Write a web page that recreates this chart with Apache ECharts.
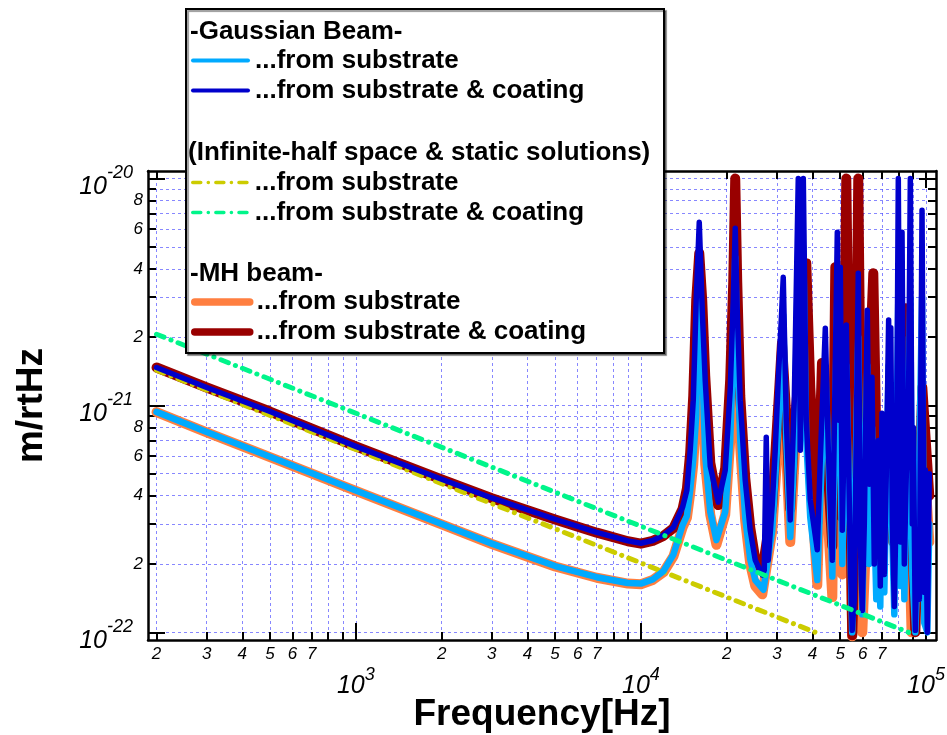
<!DOCTYPE html>
<html>
<head>
<meta charset="utf-8">
<script src="https://cdn.jsdelivr.net/npm/echarts@6/dist/echarts.min.js"></script>
</head>
<body style="margin:0">
<div id="main" style="width:947px;height:735px"></div>
<script>
// axis ranges
var X_MIN = 186.7, X_MAX = 108400;
var Y_MIN = 9.25e-23, Y_MAX = 1.08e-20;

// tick positions / labels
var X_TICKS = [200, 300, 400, 500, 600, 700, 800, 900, 1000,
  2000, 3000, 4000, 5000, 6000, 7000, 8000, 9000, 10000,
  20000, 30000, 40000, 50000, 60000, 70000, 80000, 90000, 100000];
var X_LABELED = [200, 300, 400, 500, 600, 700, 2000, 3000, 4000, 5000, 6000, 7000,
  20000, 30000, 40000, 50000, 60000, 70000];
var X_DECADES = [1000, 10000, 100000];
var Y_TICKS = [1e-22, 2e-22, 3e-22, 4e-22, 5e-22, 6e-22, 7e-22, 8e-22, 9e-22,
  1e-21, 2e-21, 3e-21, 4e-21, 5e-21, 6e-21, 7e-21, 8e-21, 9e-21, 1e-20];
var Y_LABELED = [2e-22, 4e-22, 6e-22, 8e-22, 2e-21, 4e-21, 6e-21, 8e-21];
var Y_DECADES = [1e-22, 1e-21, 1e-20];

// low frequency part, shared frequency grid
var FREQ_LOW = [200, 300, 500, 1000, 2000, 3000, 5000, 7000, 9000, 10000, 11000, 12000, 13000, 14000];
var GAUSS_COAT_LOW = [1.47e-21, 1.20e-21, 9.4e-22, 6.6e-22, 4.73e-22, 3.91e-22, 3.15e-22, 2.76e-22, 2.53e-22, 2.47e-22, 2.54e-22, 2.68e-22, 2.9e-22, 3.56e-22];
var MH_COAT_LOW = [1.47e-21, 1.20e-21, 9.4e-22, 6.6e-22, 4.72e-22, 3.9e-22, 3.14e-22, 2.75e-22, 2.52e-22, 2.46e-22, 2.53e-22, 2.66e-22, 2.88e-22, 3.5e-22];
var GAUSS_SUB_LOW = [9.37e-22, 7.63e-22, 5.94e-22, 4.22e-22, 3.0e-22, 2.46e-22, 1.96e-22, 1.75e-22, 1.65e-22, 1.64e-22, 1.71e-22, 1.86e-22, 2.2e-22, 2.97e-22];
var MH_SUB_LOW = [9.35e-22, 7.6e-22, 5.92e-22, 4.2e-22, 2.99e-22, 2.45e-22, 1.95e-22, 1.74e-22, 1.64e-22, 1.63e-22, 1.7e-22, 1.84e-22, 2.16e-22, 2.9e-22];

// resonance region, Gaussian beam, substrate & coating
var GAUSS_COAT_F = [14500, 14890, 15260, 15630, 16020, 16410, 16810, 17510, 18670, 19760,
  20570, 21080, 21420, 21770, 22310, 23220, 24180, 25180, 26650, 27080,
  27520, 27970, 28880, 29590, 30320, 31070, 31570, 32350, 33410, 34510,
  35640, 36230, 37120, 38020, 39270, 41560, 42570, 44340, 45430, 46920,
  48850, 49450, 50050, 50860, 52530, 54250, 55100, 56030,
  57860, 58830, 59770, 60750, 62230, 63260, 64640, 65860, 66930, 67470,
  68010, 69120, 70060, 71400, 72560, 73940, 74650, 75250, 76180, 77420,
  78680, 79950, 81260, 82390, 83940, 85290, 86690, 88100, 89530, 90250,
  91730, 93220, 94750, 96830, 98630, 99440, 101060, 102700];
var GAUSS_COAT_V = [4.24e-22, 6.35e-22, 1.05e-21, 2.91e-21, 6.42e-21, 2.63e-21, 1.29e-21, 5.4e-22, 3.75e-22, 5.19e-22,
  1.17e-21, 2.91e-21, 6.04e-21, 2.63e-21, 1.05e-21, 4.69e-22, 2.82e-22, 2.08e-22, 1.79e-22, 1.88e-22,
  7.24e-22, 2.08e-22, 3.64e-22, 6.35e-22, 1.29e-21, 2.38e-21, 3.67e-21, 8.6e-22, 3.13e-22, 1.05e-21,
  1.0e-20, 6.35e-22, 1.0e-20, 8.6e-22, 3.83e-22, 2.31e-22, 5.74e-22, 2.19e-21, 6.35e-22, 2.08e-22,
  5.8e-21, 8.6e-22, 4.07e-21, 2.82e-22, 2.26e-21, 2.08e-22, 1.02e-22, 1.39e-22,
  3.83e-21, 2.5e-22, 1.25e-22, 3.0e-22, 2.63e-21, 4.5e-22, 1.33e-21, 2.0e-22, 6.0e-22, 2.5e-22,
  7.0e-22, 1.6e-22, 9.25e-22, 1.8e-22, 5.0e-22, 2.38e-21, 6.0e-22, 2.2e-21, 3.0e-22, 1.3e-22,
  4.0e-22, 1.0e-20, 2.5e-22, 5.8e-21, 2.0e-22, 5.0e-22, 8.0e-22, 1.0e-20, 3.0e-22, 8.0e-22,
  1.02e-22, 2.5e-22, 1.4e-22, 7.25e-21, 1.5e-22, 5.19e-22, 1.0e-22, 5.0e-22];

// MH beam, substrate & coating
var MH_COAT_F = [14500, 14890, 15260, 15630, 16020, 16410, 16810, 17510, 18670, 19760,
  20570, 21080, 21420, 21770, 22310, 23220, 24180, 25180, 26650, 28880,
  30320, 31240, 32350, 33410, 34510, 36230, 38020, 39270, 41560, 43160,
  44340, 46920, 48070, 50050, 50860, 52530, 54250, 55100, 56030, 57860,
  59770, 62230, 65330, 67490, 70290, 71500, 76800, 80500, 84600, 88100,
  91730, 97060, 102700];
var MH_COAT_V = [4.3e-22, 6.2e-22, 1.1e-21, 2.9e-21, 4.69e-21, 2.9e-21, 1.35e-21, 5.6e-22, 3.64e-22, 5.3e-22,
  1.3e-21, 3.5e-21, 1.0e-20, 3.5e-21, 1.1e-21, 4.8e-22, 2.9e-22, 2.1e-22, 1.88e-22, 3.6e-22,
  1.0e-21, 1.88e-21, 9.0e-22, 3.5e-22, 8.0e-22, 1.6e-21, 4.24e-21, 1.2e-21, 3.03e-22, 1.54e-21,
  8.0e-22, 2.4e-22, 4.07e-21, 8.0e-22, 3.2e-22, 1.0e-20, 4.0e-22, 9.7e-23, 2.0e-22, 1.0e-20,
  2.0e-22, 8.0e-22, 3.83e-21, 4.0e-22, 2.0e-22, 8.7e-22, 2.5e-22, 6.0e-22, 2.68e-21, 5.0e-22,
  1.0e-22, 1.2e-21, 4.0e-22];

// Gaussian beam, substrate
var GAUSS_SUB_F = [14500, 14890, 15260, 15630, 16020, 16410, 16810, 17510, 18400, 19760,
  20570, 21080, 21420, 21770, 22310, 23220, 24180, 25180, 26900, 28880,
  30320, 31570, 32350, 33410, 34510, 35640, 36230, 37120, 38020, 39270,
  41560, 44340, 46920, 48850, 50860, 52530, 55100,
  57860, 59770, 62230, 63260, 64640, 66930, 68010, 69120, 70060, 71400,
  73940, 76180, 77420, 79950, 81260, 82390, 83940, 88100, 89530, 91730,
  93220, 96830, 98630, 101060, 102700];
var GAUSS_SUB_V = [3.26e-22, 4.24e-22, 5.74e-22, 9.0e-22, 4.0e-21, 1.5e-21, 6.0e-22, 3.4e-22, 2.55e-22, 3.4e-22,
  7.0e-22, 1.8e-21, 4.5e-21, 1.8e-21, 7.0e-22, 3.2e-22, 2.1e-22, 1.7e-22, 1.54e-22, 2.8e-22,
  8.0e-22, 2.5e-21, 7.0e-22, 2.63e-22, 6.0e-22, 5.0e-21, 8.3e-22, 5.0e-21, 7.0e-22, 3.2e-22,
  1.7e-22, 1.5e-21, 1.76e-22, 3.0e-21, 2.0e-22, 1.5e-21, 1.0e-22,
  2.0e-21, 1.2e-22, 1.5e-21, 2.0e-22, 8.0e-22, 1.4e-22, 3.0e-22, 1.3e-22, 6.0e-22, 1.5e-22,
  1.5e-21, 2.6e-22, 1.2e-22, 3.0e-21, 1.6e-22, 2.0e-21, 1.4e-22, 3.0e-21, 1.8e-22, 1.0e-22,
  1.8e-22, 3.0e-21, 1.1e-22, 1.0e-22, 3.0e-22];

// MH beam, substrate
var MH_SUB_F = [14500, 14890, 15260, 15630, 16020, 16410, 16810, 17510, 18400, 19760,
  20570, 21080, 21420, 21770, 22310, 23220, 24180, 25180, 26650, 28880,
  30320, 31240, 32350, 33410, 35640, 38020, 39270, 41560, 43160, 46920,
  48070, 50860, 52530, 55100, 57860, 59770, 65330, 67490, 71500, 76800,
  84600, 89000, 97060, 102700];
var MH_SUB_V = [3.2e-22, 4.1e-22, 5.5e-22, 9.0e-22, 3.0e-21, 1.4e-21, 5.5e-22, 3.3e-22, 2.43e-22, 3.3e-22,
  7.0e-22, 2.0e-21, 5.0e-21, 2.0e-21, 6.5e-22, 3.1e-22, 2.0e-22, 1.6e-22, 1.47e-22, 2.8e-22,
  7.0e-22, 1.5e-21, 6.0e-22, 2.5e-22, 1.2e-21, 2.0e-21, 5.0e-22, 1.62e-22, 9.0e-22, 1.43e-22,
  2.0e-21, 1.8e-22, 3.0e-21, 9.6e-23, 3.0e-21, 1.0e-22, 1.5e-21, 2.0e-22, 6.0e-22, 2.5e-22,
  1.2e-21, 1.0e-22, 8.0e-22, 2.5e-22];

// infinite half space & static solutions (straight in log-log)
var INF_SUB_F = [200, 40900];
var INF_SUB_V = [1.43e-21, 1.0e-22];
var INF_COAT_F = [200, 86900];
var INF_COAT_V = [2.06e-21, 1.0e-22];

var FONT = 'Liberation Sans, Arial, Helvetica, sans-serif';
var GRID_LINE = {color: 'rgba(70,70,255,0.65)', width: 1, type: [3, 3]};

var LABELS = {
  gSub: '...from substrate',
  gCoat: '...from substrate & coating',
  iSub: '...from substrate',
  iCoat: '...from substrate & coating',
  mSub: '...from substrate',
  mCoat: '...from substrate & coating'
};

function pairs(f, v) {
  return f.map(function (x, i) { return [x, v[i]]; });
}

function leadDigit(v) {
  var e = Math.floor(Math.log10(v) + 1e-9);
  return String(Math.round(v / Math.pow(10, e)));
}

function tickAxis(kind, pos, ticks, len, extra) {
  var ax = {
    type: 'log', logBase: 10, position: pos, gridIndex: 0,
    min: kind === 'x' ? X_MIN : Y_MIN,
    max: kind === 'x' ? X_MAX : Y_MAX,
    axisLine: {show: false, onZero: false},
    axisTick: {show: true, inside: true, length: len, customValues: ticks,
      lineStyle: {color: '#000', width: 2}},
    axisLabel: {show: false},
    splitLine: {show: false},
    minorTick: {show: false},
    axisPointer: {show: false}
  };
  return Object.assign(ax, extra || {});
}

var FRAME = {show: true, onZero: false, lineStyle: {color: '#000', width: 2.5}};

var minorLabel = {
  show: true, color: '#000', fontSize: 17, fontStyle: 'italic', fontFamily: FONT,
  formatter: leadDigit
};

var chart = echarts.init(document.getElementById('main'));

var lineBase = {type: 'line', showSymbol: false, symbol: 'none', animation: false, z: 2, silent: true};

function series(name, f, v, color, width, dash) {
  return Object.assign({}, lineBase, {
    name: name,
    data: pairs(f, v),
    lineStyle: {color: color, width: width, type: dash || 'solid', cap: 'round', join: 'round'},
    itemStyle: {color: color}
  });
}

function legendItem(name, color, width, dash) {
  return {name: name, itemStyle: {color: 'rgba(0,0,0,0)', opacity: 0},
    lineStyle: {color: color, width: width, type: dash || 'solid', cap: 'round'}};
}

var DASH_DOT = [8, 7.5, 0.1, 7.5];

var legendText = {fontSize: 26, fontWeight: 'bold', fontFamily: FONT, color: '#000',
  lineHeight: 30, padding: [0, 0, 0, 2]};

function legendGroup(top, items) {
  return {
    left: 191, top: top, orient: 'vertical', padding: 0, itemGap: 0,
    itemWidth: 55, itemHeight: 14, selectedMode: false, z: 6,
    data: items,
    formatter: function (n) { return LABELS[n]; },
    textStyle: legendText
  };
}

var option = {
  animation: false,
  backgroundColor: '#fff',
  grid: {left: 148, top: 171, width: 788, height: 469, containLabel: false, outerBoundsMode: 'none'},
  xAxis: [
    tickAxis('x', 'bottom', X_TICKS, 8, {
      axisLine: FRAME,
      axisLabel: Object.assign({customValues: X_LABELED, margin: 6}, minorLabel),
      splitLine: {show: true, lineStyle: GRID_LINE},
      name: 'Frequency[Hz]', nameLocation: 'middle', nameGap: 56,
      nameTextStyle: {fontSize: 37, fontWeight: 'bold', fontFamily: FONT, color: '#000'}
    }),
    tickAxis('x', 'bottom', X_DECADES, 17, {
      axisLabel: {
        show: true, customValues: X_DECADES, margin: 26,
        formatter: function (v) { return '{a|10}{b|' + Math.round(Math.log10(v)) + '}'; },
        rich: {
          a: {fontSize: 25, fontStyle: 'italic', fontFamily: FONT, color: '#000', lineHeight: 40},
          b: {fontSize: 18, fontStyle: 'italic', fontFamily: FONT, color: '#000', lineHeight: 14, verticalAlign: 'top'}
        }
      }
    }),
    tickAxis('x', 'top', X_TICKS, 8, {axisLine: FRAME}),
    tickAxis('x', 'top', X_DECADES, 17)
  ],
  yAxis: [
    tickAxis('y', 'left', Y_TICKS, 8, {
      axisLine: FRAME,
      axisLabel: Object.assign({customValues: Y_LABELED, margin: 5}, minorLabel),
      splitLine: {show: true, lineStyle: GRID_LINE},
      name: 'm/rtHz', nameLocation: 'middle', nameGap: 98,
      nameTextStyle: {fontSize: 37, fontWeight: 'bold', fontFamily: FONT, color: '#000'}
    }),
    tickAxis('y', 'left', Y_DECADES, 17, {
      axisLabel: {
        show: true, customValues: Y_DECADES, margin: 15, padding: [17, 0, 0, 0],
        formatter: function (v) { return '{a|10}{b|' + Math.round(Math.log10(v)) + '}'; },
        rich: {
          a: {fontSize: 25, fontStyle: 'italic', fontFamily: FONT, color: '#000', lineHeight: 46},
          b: {fontSize: 18, fontStyle: 'italic', fontFamily: FONT, color: '#000', lineHeight: 14, verticalAlign: 'top'}
        }
      }
    }),
    tickAxis('y', 'right', Y_TICKS, 8, {axisLine: FRAME}),
    tickAxis('y', 'right', Y_DECADES, 17)
  ],
  legend: [
    legendGroup(45.5, [legendItem('gSub', '#00aaff', 4), legendItem('gCoat', '#0000cc', 4)]),
    legendGroup(167.5, [legendItem('iSub', '#cccc00', 3.5, DASH_DOT), legendItem('iCoat', '#00f58a', 3.5, DASH_DOT)]),
    legendGroup(287, [legendItem('mSub', '#ff7f40', 7.5), legendItem('mCoat', '#990000', 7.5)])
  ],
  graphic: [
    {type: 'rect', left: 185, top: 8, z: 5,
      shape: {width: 478, height: 344},
      style: {fill: '#fff', stroke: '#000', lineWidth: 2,
        shadowOffsetX: 2, shadowOffsetY: 2, shadowBlur: 1, shadowColor: 'rgba(0,0,0,0.4)'}},
    {type: 'text', left: 190, top: 18.5, z: 6,
      style: {text: '-Gaussian Beam-', font: 'bold 26px ' + FONT, fill: '#000'}},
    {type: 'text', left: 188, top: 139.5, z: 6,
      style: {text: '(Infinite-half space & static solutions)', font: 'bold 26px ' + FONT, fill: '#000'}},
    {type: 'text', left: 190, top: 260.5, z: 6,
      style: {text: '-MH beam-', font: 'bold 26px ' + FONT, fill: '#000'}}
  ],
  series: [
    series('mSub', FREQ_LOW.concat(MH_SUB_F), MH_SUB_LOW.concat(MH_SUB_V), '#ff7f40', 10),
    series('mCoat', FREQ_LOW.concat(MH_COAT_F), MH_COAT_LOW.concat(MH_COAT_V), '#990000', 10),
    series('iSub', INF_SUB_F, INF_SUB_V, '#cccc00', 5, DASH_DOT),
    series('gSub', FREQ_LOW.concat(GAUSS_SUB_F), GAUSS_SUB_LOW.concat(GAUSS_SUB_V), '#00aaff', 6.5),
    series('gCoat', FREQ_LOW.concat(GAUSS_COAT_F), GAUSS_COAT_LOW.concat(GAUSS_COAT_V), '#0000cc', 5.5),
    series('iCoat', INF_COAT_F, INF_COAT_V, '#00f58a', 5, DASH_DOT)
  ]
};

chart.setOption(option);
</script>
</body>
</html>
